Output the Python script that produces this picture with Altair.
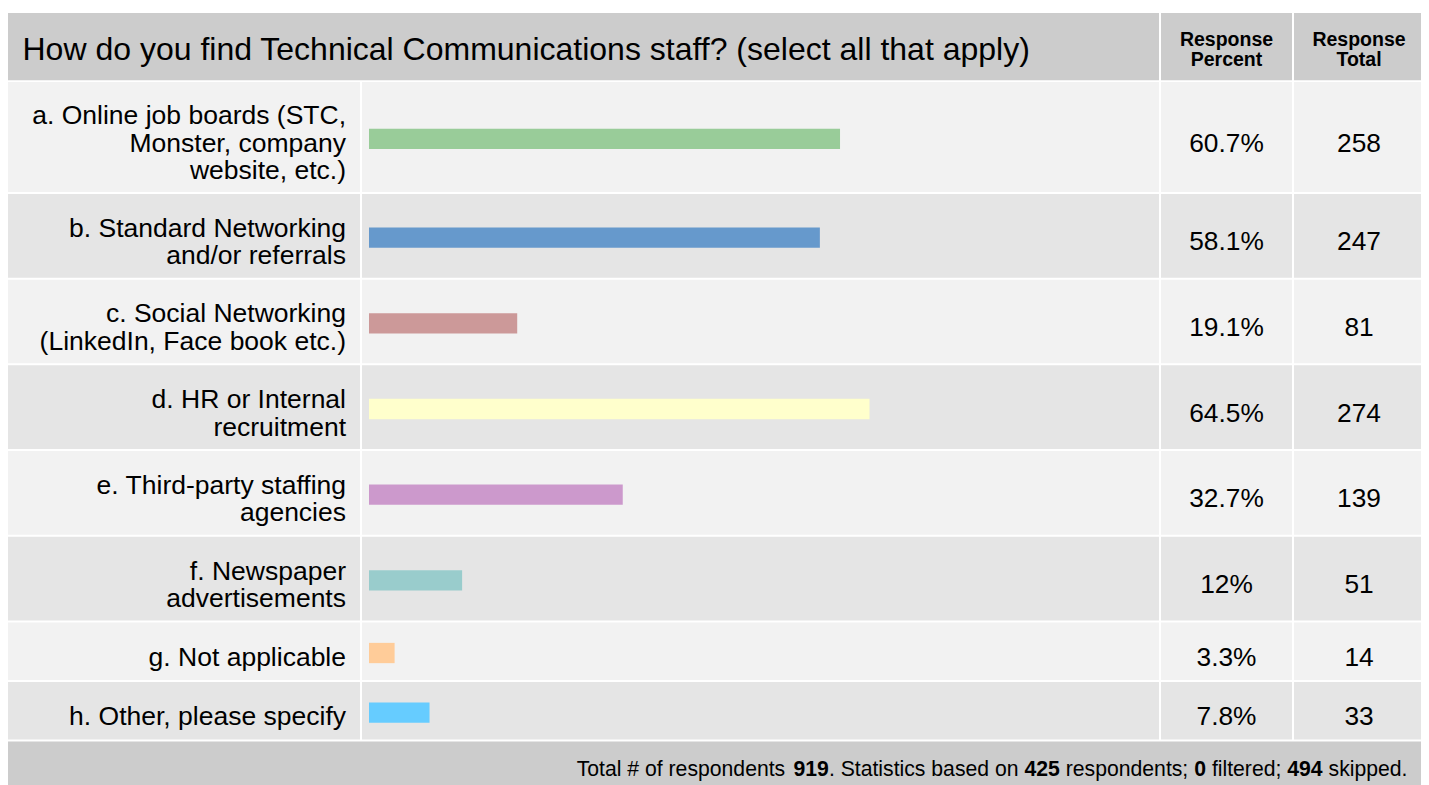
import altair as alt
import pandas as pd

# ---------------- data ----------------
title = "How do you find Technical Communications staff? (select all that apply)"
col_headers = ["Response\nPercent", "Response\nTotal"]
labels = [
    "a. Online job boards (STC,\nMonster, company\nwebsite, etc.)",
    "b. Standard Networking\nand/or referrals",
    "c. Social Networking\n(LinkedIn, Face book etc.)",
    "d. HR or Internal\nrecruitment",
    "e. Third-party staffing\nagencies",
    "f. Newspaper\nadvertisements",
    "g. Not applicable",
    "h. Other, please specify",
]
percents = [60.7, 58.1, 19.1, 64.5, 32.7, 12, 3.3, 7.8]
totals = [258, 247, 81, 274, 139, 51, 14, 33]
bar_colors = ["#99cc99", "#6699cc", "#cc9999", "#ffffcc",
              "#cc99cc", "#99cccc", "#ffcc99", "#66ccff"]
total_respondents = 919
answered = 425
filtered = 0
skipped = 494

# ---------------- layout ----------------
FONT = "Liberation Sans"
W, H = 1413, 784
GAP = 2
col_widths = [352, 797, 131, 127]
header_h = 68
row_base = 31.8      # cell height = row_base + line_step * lines
line_step = 26.5
LABEL_LH = 27.4
header_fill = "#cccccc"
row_fills = ["#f2f2f2", "#e5e5e5"]

edges = []
cx = 0
for w in col_widths:
    edges.append((cx, cx + w))
    cx += w + GAP

cells = []
cells.append(dict(x0=edges[0][0], x1=edges[1][1], y0=0, y1=header_h, fill=header_fill))
cells.append(dict(x0=edges[2][0], x1=edges[2][1], y0=0, y1=header_h, fill=header_fill))
cells.append(dict(x0=edges[3][0], x1=edges[3][1], y0=0, y1=header_h, fill=header_fill))

rows = []
top = header_h + GAP
for i, lab in enumerate(labels):
    n = lab.count("\n") + 1
    h = row_base + line_step * n
    fill = row_fills[i % 2]
    for (a, b) in edges:
        cells.append(dict(x0=a, x1=b, y0=top, y1=top + h, fill=fill))
    yc = top + h / 2
    rows.append(dict(
        label=lab, pct=percents[i], pct_txt=f"{percents[i]:g}%",
        total=str(totals[i]), color=bar_colors[i], yc=yc,
        ly=yc - (n - 1) * LABEL_LH / 2,
        lx=edges[0][1] - 14, px=(edges[2][0] + edges[2][1]) / 2,
        tx=(edges[3][0] + edges[3][1]) / 2 + 1.5,
    ))
    top += h + GAP
footer_top = top
cells.append(dict(x0=0, x1=W, y0=footer_top, y1=H, fill=header_fill))

cells_df = pd.DataFrame(cells)
rows_df = pd.DataFrame(rows)

head_df = pd.DataFrame([
    dict(text=title, x=14.5, y=header_h / 2, kind="title"),
    dict(text=col_headers[0], x=(edges[2][0] + edges[2][1]) / 2, y=header_h / 2 - 10, kind="col"),
    dict(text=col_headers[1], x=(edges[3][0] + edges[3][1]) / 2 + 1.5, y=header_h / 2 - 10, kind="col"),
])

# footer with bold numbers: place segments using Arial-metric widths
reg_w = {'T': .611, 'o': .556, 't': .278, 'a': .556, 'l': .222, ' ': .278, '#': .556,
         'f': .278, 'r': .333, 'e': .556, 's': .5, 'p': .556, 'n': .556, 'd': .556,
         '.': .278, 'S': .667, 'i': .222, 'c': .5, 'b': .556, ';': .278, 'k': .5}
FS_FOOT = 21.2
segs = [("Total # of respondents ", False), (str(total_respondents), True),
        (". Statistics based on ", False), (str(answered), True),
        (" respondents; ", False), (str(filtered), True),
        (" filtered; ", False), (str(skipped), True), (" skipped.", False)]


def seg_width(s, bold):
    return sum((0.556 if (bold or ch.isdigit()) else reg_w.get(ch, 0.556)) for ch in s) * FS_FOOT


total_w = sum(seg_width(s, b) for s, b in segs)
cur = W - 13.5 - total_w
foot = []
for s, b in segs:
    lead = len(s) - len(s.lstrip(" "))
    foot.append(dict(text=s.strip(), x=cur + lead * reg_w[' '] * FS_FOOT,
                     y=(footer_top + H) / 2, bold=b))
    cur += seg_width(s, b)
foot_df = pd.DataFrame(foot)

# ---------------- scales ----------------
xs = alt.Scale(domain=[0, W], range=[0, W], nice=False, zero=False)
ys = alt.Scale(domain=[0, H], range=[0, H], nice=False, zero=False)
bar_left = edges[1][0] + 7
xbar = alt.Scale(domain=[0, 100], range=[bar_left, bar_left + 776], nice=False)

cells_layer = alt.Chart(cells_df).mark_rect().encode(
    x=alt.X("x0:Q", scale=xs, axis=None), x2="x1:Q",
    y=alt.Y("y0:Q", scale=ys, axis=None), y2="y1:Q",
    color=alt.Color("fill:N", scale=None),
)

bars = alt.Chart(rows_df).mark_bar(orient="horizontal", size=20.3, yOffset=1.8).encode(
    x=alt.X("pct:Q", scale=xbar, axis=None, stack=None),
    y=alt.Y("yc:Q", scale=ys, axis=None),
    color=alt.Color("color:N", scale=None),
)

label_txt = alt.Chart(rows_df).mark_text(
    align="right", baseline="middle", font=FONT, fontSize=26.5, lineHeight=LABEL_LH,
    lineBreak="\n", dy=6.5, color="#000000",
).encode(
    x=alt.X("lx:Q", scale=xs, axis=None), y=alt.Y("ly:Q", scale=ys, axis=None), text="label:N",
)

pct_txt = alt.Chart(rows_df).mark_text(
    align="center", baseline="middle", font=FONT, fontSize=26.3, dy=6.5, color="#000000",
).encode(
    x=alt.X("px:Q", scale=xs, axis=None), y=alt.Y("yc:Q", scale=ys, axis=None), text="pct_txt:N",
)

tot_txt = alt.Chart(rows_df).mark_text(
    align="center", baseline="middle", font=FONT, fontSize=26.3, dy=6.5, color="#000000",
).encode(
    x=alt.X("tx:Q", scale=xs, axis=None), y=alt.Y("yc:Q", scale=ys, axis=None), text="total:N",
)

title_txt = alt.Chart(head_df).transform_filter(alt.datum.kind == "title").mark_text(
    align="left", baseline="middle", font=FONT, fontSize=32, dy=3.5, color="#000000",
).encode(
    x=alt.X("x:Q", scale=xs, axis=None), y=alt.Y("y:Q", scale=ys, axis=None), text="text:N",
)

colhead_txt = alt.Chart(head_df).transform_filter(alt.datum.kind == "col").mark_text(
    align="center", baseline="middle", font=FONT, fontSize=19.5, fontWeight="bold",
    lineHeight=20.3, lineBreak="\n", dy=3.5, color="#000000",
).encode(
    x=alt.X("x:Q", scale=xs, axis=None), y=alt.Y("y:Q", scale=ys, axis=None), text="text:N",
)

foot_reg = alt.Chart(foot_df).transform_filter(alt.datum.bold == False).mark_text(
    align="left", baseline="middle", font=FONT, fontSize=FS_FOOT, dy=6, color="#000000",
).encode(
    x=alt.X("x:Q", scale=xs, axis=None), y=alt.Y("y:Q", scale=ys, axis=None), text="text:N",
)

foot_bold = alt.Chart(foot_df).transform_filter(alt.datum.bold == True).mark_text(
    align="left", baseline="middle", font=FONT, fontSize=FS_FOOT, fontWeight="bold",
    dy=6, color="#000000",
).encode(
    x=alt.X("x:Q", scale=xs, axis=None), y=alt.Y("y:Q", scale=ys, axis=None), text="text:N",
)

chart = alt.layer(
    cells_layer, bars, label_txt, pct_txt, tot_txt, title_txt, colhead_txt, foot_reg, foot_bold
).resolve_scale(x="independent").properties(
    width=W, height=H, padding=0, background="#ffffff",
    autosize=alt.AutoSizeParams(type="none"),
).configure_view(stroke=None)

chart.save("out.html", embed_options={"renderer": "svg", "actions": False})
